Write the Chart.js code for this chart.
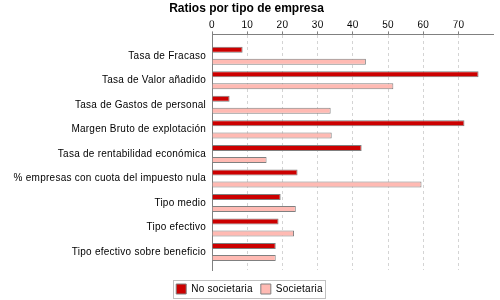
<!DOCTYPE html>
<html>
<head>
<meta charset="utf-8">
<script src="https://cdn.jsdelivr.net/npm/chart.js@4/dist/chart.umd.min.js"></script>
<style>
  html, body { margin: 0; padding: 0; background: #fff; }
  #wrap { width: 500px; height: 300px; }
</style>
</head>
<body>
<div id="wrap"><canvas id="myChart1"></canvas></div>
<script>
const labels = [
    "Tasa de Fracaso",
    "Tasa de Valor añadido",
    "Tasa de Gastos de personal",
    "Margen Bruto de explotación",
    "Tasa de rentabilidad económica",
    "% empresas con cuota del impuesto nula",
    "Tipo medio",
    "Tipo efectivo",
    "Tipo efectivo sobre beneficio",
];
const noSocietaria = [8.7, 75.7, 5.0, 71.7, 42.5, 24.3, 19.5, 18.9, 18.1];
const societaria = [43.7, 51.5, 33.7, 34.0, 15.5, 59.5, 23.8, 23.3, 18.1];
const xTicks = [0, 10, 20, 30, 40, 50, 60, 70];

Chart.defaults.font.family = "'Liberation Sans', Arial, sans-serif";
Chart.defaults.color = "#000";

// slightly spaced text for ticks and legend, title left as is
const spacing = {
    id: "spacing",
    beforeLayout(chart) {
        chart.ctx.letterSpacing = "0.25px";
    },
    beforeDraw(chart) {
        chart.ctx.letterSpacing = "0.25px";
        const tb = chart.titleBlock;
        if (tb && !tb._wrapped) {
            const orig = tb.draw.bind(tb);
            tb.draw = function () {
                const c = chart.ctx;
                c.save();
                c.letterSpacing = "0px";
                orig();
                c.restore();
            };
            tb._wrapped = true;
        }
    },
};

// legend a bit lower and centred on the page, with a box round it
const legendBorder = {
    id: "legendBorder",
    afterLayout(chart) {
        chart.legend.top += 6;
        chart.legend.bottom += 6;
        chart.legend.left += 3;
        chart.legend.right += 3;
    },
    afterDraw(chart) {
        const hb = chart.legend.legendHitBoxes;
        if (!hb || !hb.length) return;
        const left = Math.min(...hb.map(h => h.left)) - 3;
        const right = Math.max(...hb.map(h => h.left + h.width)) + 2;
        const top = Math.min(...hb.map(h => h.top)) - 4;
        const bottom = Math.max(...hb.map(h => h.top + h.height)) + 4;
        const ctx = chart.ctx;
        ctx.save();
        ctx.strokeStyle = "#c0c0c0";
        ctx.lineWidth = 1;
        ctx.strokeRect(Math.round(left) + 0.5, Math.round(top) + 0.5, Math.round(right - left), Math.round(bottom - top));
        ctx.restore();
    },
};

const ctx = document.getElementById("myChart1").getContext("2d");
const myChart = new Chart(ctx, {
    type: "bar",
    data: {
        labels: labels,
        datasets: [
            {
                label: "No societaria",
                data: noSocietaria,
                backgroundColor: "#cc0000",
                borderColor: "#808080",
                borderWidth: 1,
            },
            {
                label: "Societaria",
                data: societaria,
                backgroundColor: "#ffbab3",
                borderColor: "#808080",
                borderWidth: 1,
            },
        ],
    },
    options: {
        indexAxis: "y",
        responsive: true,
        maintainAspectRatio: false,
        animation: false,
        categoryPercentage: 0.98,
        barPercentage: 0.5,
        layout: { padding: { left: 0, right: 7, top: 0, bottom: 2 } },
        scales: {
            x: {
                position: "top",
                min: 0,
                max: 79.8,
                afterBuildTicks(scale) {
                    scale.ticks = xTicks.map(v => ({ value: v }));
                },
                afterFit(scale) {
                    scale.height = 14;
                },
                ticks: { font: { size: 10 }, padding: 0, color: "#000" },
                grid: {
                    color: (c) => (c.tick && c.tick.value === 0 ? "rgba(0,0,0,0)" : "#d4d4d4"),
                    drawTicks: true,
                    tickLength: 3,
                    tickColor: "#808080",
                },
                border: { color: "#808080", dash: [3, 3], display: true },
            },
            y: {
                afterBuildTicks(scale) {
                    // extra room above the first and below the last category
                    scale._startValue = -0.87;
                    scale._valueRange = 9.6;
                },
                afterFit(scale) {
                    scale.width = 212;
                },
                ticks: { font: { size: 10 }, padding: 6, color: "#000", autoSkip: false },
                grid: { display: false, drawTicks: false },
                border: { color: "#808080", display: true },
            },
        },
        plugins: {
            title: {
                display: true,
                text: "Ratios por tipo de empresa",
                font: { size: 12, weight: "bold" },
                color: "#000",
                padding: { top: 1.5, bottom: 4.5 },
            },
            legend: {
                position: "bottom",
                labels: {
                    boxWidth: 10,
                    boxHeight: 10,
                    padding: 8,
                    font: { size: 10 },
                    color: "#000",
                },
            },
            tooltip: { enabled: false },
        },
    },
    plugins: [spacing, legendBorder],
});
</script>
</body>
</html>
